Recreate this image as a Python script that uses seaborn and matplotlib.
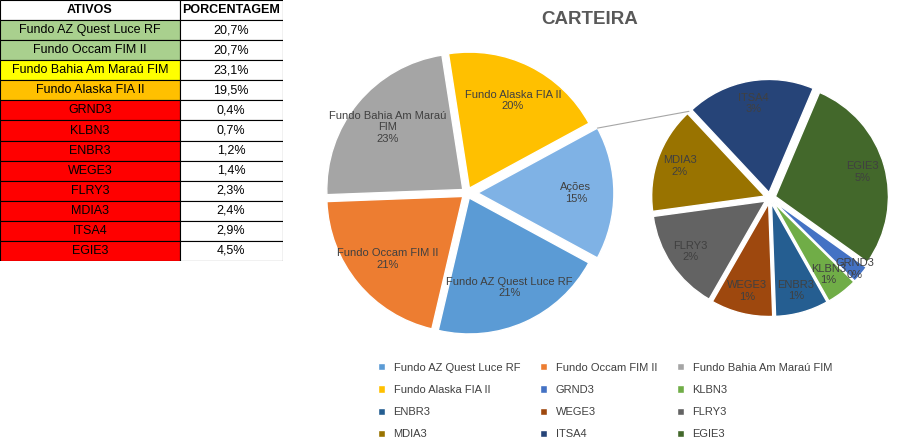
import numpy as np
import matplotlib
matplotlib.use("Agg")
import matplotlib.pyplot as plt
import seaborn as sns
from matplotlib.patches import Rectangle, ConnectionPatch

sns.set_theme(style="white", font="Liberation Sans")

# table data
ativos = ["Fundo AZ Quest Luce RF", "Fundo Occam FIM II", "Fundo Bahia Am Maraú FIM",
          "Fundo Alaska FIA II", "GRND3", "KLBN3", "ENBR3", "WEGE3", "FLRY3",
          "MDIA3", "ITSA4", "EGIE3"]
porcentagem = ["20,7%", "20,7%", "23,1%", "19,5%", "0,4%", "0,7%", "1,2%", "1,4%",
               "2,3%", "2,4%", "2,9%", "4,5%"]
row_colors = ["#A9D08E", "#A9D08E", "#FFFF00", "#FFC000"] + ["#FF0000"] * 8

# main pie (clockwise from Ações)
main_names = ["Ações", "Fundo AZ Quest Luce RF", "Fundo Occam FIM II",
              "Fundo Bahia Am Maraú\nFIM", "Fundo Alaska FIA II"]
main_values = [15.8, 20.7, 20.7, 23.1, 19.5]
main_pct = ["15%", "21%", "21%", "23%", "20%"]
main_colors = ["#7FB2E5", "#5B9BD5", "#ED7D31", "#A5A5A5", "#FFC000"]

# secondary pie (clockwise from EGIE3)
sec_names = ["EGIE3", "GRND3", "KLBN3", "ENBR3", "WEGE3", "FLRY3", "MDIA3", "ITSA4"]
sec_values = [4.5, 0.4, 0.7, 1.2, 1.4, 2.3, 2.4, 2.9]
sec_pct = ["5%", "0%", "1%", "1%", "1%", "2%", "2%", "3%"]
sec_colors = ["#43682B", "#4472C4", "#70AD47", "#255E91", "#9E480E", "#636363",
              "#997300", "#264478"]

legend_order = ["Fundo AZ Quest Luce RF", "Fundo Occam FIM II", "Fundo Bahia Am Maraú FIM",
                "Fundo Alaska FIA II", "GRND3", "KLBN3", "ENBR3", "WEGE3", "FLRY3",
                "MDIA3", "ITSA4", "EGIE3"]
legend_colors = ["#5B9BD5", "#ED7D31", "#A5A5A5", "#FFC000", "#4472C4", "#70AD47",
                 "#255E91", "#9E480E", "#636363", "#997300", "#264478", "#43682B"]

W, H = 918, 445
fig = plt.figure(figsize=(W / 100, H / 100), dpi=100)
fig.patch.set_facecolor("white")

def px_axes(x0, y0, w, h):
    return fig.add_axes([x0 / W, 1 - (y0 + h) / H, w / W, h / H])

# ---- table ----
tab = px_axes(0, 0, 283, 261)
tab.set_xlim(0, 283)
tab.set_ylim(261, 0)
tab.axis("off")
rh = 261 / 13
cols = [(0, 180), (180, 103)]
for j, (x, w) in enumerate(cols):
    tab.add_patch(Rectangle((x, 0), w, rh, fc="white", ec="black", lw=0.8))
    tab.text(x + w / 2, rh / 2, ["ATIVOS", "PORCENTAGEM"][j], ha="center", va="center",
             fontsize=9, fontweight="bold", color="black")
for i in range(len(ativos)):
    y = (i + 1) * rh
    tab.add_patch(Rectangle((0, y), 180, rh, fc=row_colors[i], ec="black", lw=0.8))
    tab.add_patch(Rectangle((180, y), 103, rh, fc="white", ec="black", lw=0.8))
    tab.text(90, y + rh / 2, ativos[i], ha="center", va="center", fontsize=9, color="black")
    tab.text(231, y + rh / 2, porcentagem[i], ha="center", va="center", fontsize=9, color="black")

# ---- title ----
fig.text(590 / W, 1 - 20 / H, "CARTEIRA", ha="center", va="center", fontsize=13.5,
         fontweight="bold", color="#595959")

# ---- main pie ----
R1 = 136
ax1 = px_axes(467 - 1.15 * R1, 193 - 1.15 * R1, 2.3 * R1, 2.3 * R1)
start1 = 360 * main_values[0] / sum(main_values) / 2
wedges1, texts1 = ax1.pie(main_values, colors=main_colors, startangle=start1,
                          counterclock=False, explode=[0.08, 0.04, 0.04, 0.04, 0.04],
                          labels=[f"{n}\n{p}" for n, p in zip(main_names, main_pct)],
                          labeldistance=0.72, wedgeprops=dict(ec="white", lw=1),
                          textprops=dict(fontsize=8, color="#404040"))
for t in texts1:
    t.set_ha("center")
    t.set_va("center")
ax1.set_xlim(-1.15, 1.15)
ax1.set_ylim(-1.15, 1.15)
ax1.set_aspect("equal")

# ---- secondary pie ----
R2 = 113
ax2 = px_axes(770 - 1.15 * R2, 198 - 1.15 * R2, 2.3 * R2, 2.3 * R2)
start2 = 67
wedges2, texts2 = ax2.pie(sec_values, colors=sec_colors, startangle=start2,
                          counterclock=False, explode=[0.05] * len(sec_values),
                          labels=[f"{n}\n{p}" for n, p in zip(sec_names, sec_pct)],
                          labeldistance=0.8, wedgeprops=dict(ec="white", lw=1),
                          textprops=dict(fontsize=8, color="#404040"))
for t in texts2:
    t.set_ha("center")
    t.set_va("center")
# small slices: push GRND3 label outward
x, y = texts2[1].get_position()
texts2[1].set_position((x * 1.15, y * 1.15))
ax2.set_xlim(-1.15, 1.15)
ax2.set_ylim(-1.15, 1.15)
ax2.set_aspect("equal")

# connector line from Ações slice to secondary pie
a1 = np.deg2rad(start1)
p1 = (np.cos(a1) + 0.08, np.sin(a1))
a2 = np.deg2rad(start2 + 360 * sec_values[-1] / sum(sec_values))
p2 = (np.cos(a2) * 1.05, np.sin(a2) * 1.05)
con = ConnectionPatch(xyA=p1, coordsA=ax1.transData, xyB=p2, coordsB=ax2.transData,
                      color="#A6A6A6", lw=0.8)
fig.add_artist(con)

# ---- legend (row-major reading, matplotlib fills column-major) ----
handles = [Rectangle((0, 0), 1, 1, fc=c) for c in legend_colors]
ncol = 3
idx = [r * ncol + c for c in range(ncol) for r in range(len(handles) // ncol)]
fig.legend([handles[i] for i in idx], [legend_order[i] for i in idx], ncol=ncol,
           loc="center", bbox_to_anchor=(605 / W, 1 - 401 / H),
           frameon=False, fontsize=8, labelcolor="#404040", handlelength=0.6, handleheight=0.6,
           columnspacing=1.8, labelspacing=1.1)

fig.savefig("out.png", dpi=100, facecolor="white")
